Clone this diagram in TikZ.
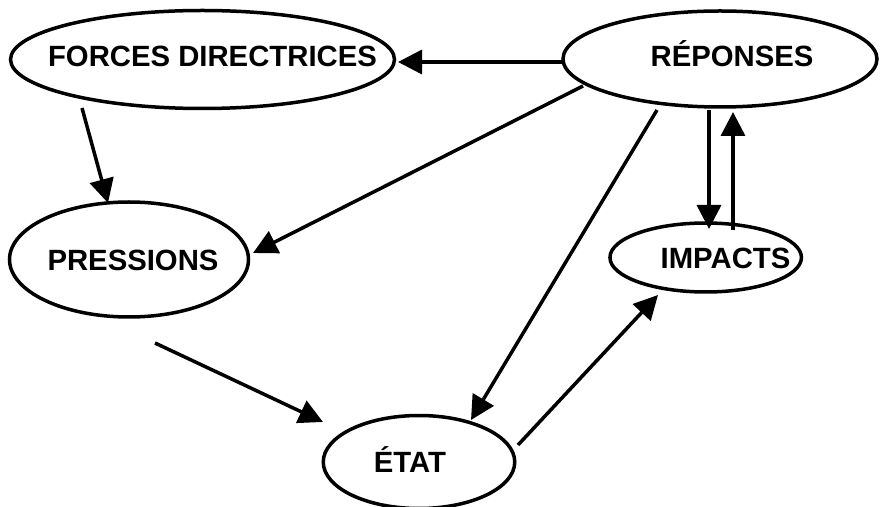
\documentclass[tikz,border=0pt]{standalone}
\usepackage{fontspec}
\setmainfont{Liberation Sans}
\usetikzlibrary{shapes.geometric,arrows.meta}
\begin{document}
\begin{tikzpicture}[x=1pt,y=1pt,
  bubble/.style={draw=black,line width=3.5pt,ellipse,inner sep=0pt,fill=none},
  lbl/.style={inner sep=0pt,anchor=base,font=\bfseries\fontsize{29.3}{31}\selectfont},
  conn/.style={line width=3.5pt,-{Triangle[length=24pt,width=24pt]}}]
\useasboundingbox (0,0) rectangle (880,506);
% ellipses
\node[bubble,minimum width=384pt,minimum height=98pt] (F) at (202.5,446.5) {};
\node[bubble,minimum width=314pt,minimum height=96pt] (R) at (720,447) {};
\node[bubble,minimum width=239pt,minimum height=115pt] (P) at (129,246.5) {};
\node[bubble,minimum width=191.5pt,minimum height=69pt] (I) at (705.7,248.5) {};
\node[bubble,minimum width=191.5pt,minimum height=93pt] (E) at (419,44) {};
% labels
\node[lbl] (tF) at (212.5,439.5) {FORCES DIRECTRICES};
\node[lbl] (tR) at (732,439.5) {RÉPONSES};
\node[lbl] (tP) at (133,235.5) {PRESSIONS};
\node[lbl] (tI) at (725.5,237.5) {IMPACTS};
\node[lbl] (tE) at (410,33.5) {ÉTAT};
% connectors
\draw[conn] ([shift={(-158,-3)}]R.center) -- ([shift={(195.5,-2.5)}]F.center);
\draw[conn] ([shift={(-120.5,-48.5)}]F.center) -- ([shift={(-21,56.5)}]P.center);
\draw[conn] ([shift={(-137,-27)}]R.center) -- ([shift={(124,6.5)}]P.center);
\draw[conn] ([shift={(-63,-51)}]R.center) -- ([shift={(52,42)}]E.center);
\draw[conn] ([shift={(-11,-51)}]R.center) -- ([shift={(3.3,28.5)}]I.center);
\draw[conn] ([shift={(27.3,27.5)}]I.center) -- ([shift={(13,-53)}]R.center);
\draw[conn] ([shift={(26,-83.5)}]P.center) -- ([shift={(-96,40)}]E.center);
\draw[conn] ([shift={(99,17)}]E.center) -- ([shift={(-47.7,-37.5)}]I.center);
\end{tikzpicture}
\end{document}
